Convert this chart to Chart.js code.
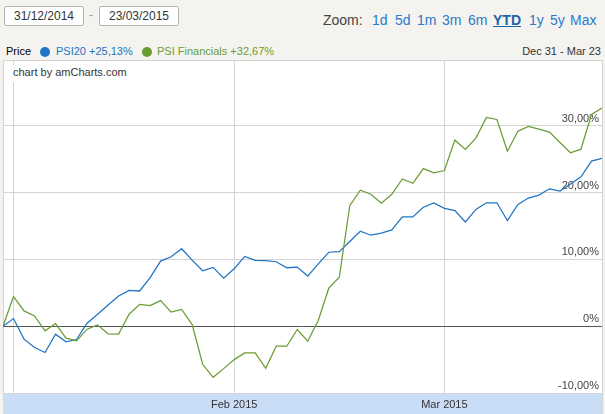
<!DOCTYPE html>
<html>
<head>
<meta charset="utf-8">
<script src="https://cdn.jsdelivr.net/npm/chart.js@4.4.1/dist/chart.umd.min.js"></script>
<style>
  body { margin: 0; width: 605px; height: 414px; background: #f4f3f0; font-family: "Liberation Sans", Arial, sans-serif; position: relative; overflow: hidden; }
  .date { position: absolute; top: 6px; width: 78px; height: 18px; background: #fff; border: 1px solid #b5b5b5; border-radius: 2px; font-size: 12px; color: #333; text-align: center; line-height: 18px; }
  .dash { position: absolute; left: 89px; top: 8px; font-size: 12px; color: #999; }
  .zoom { position: absolute; top: 12px; font-size: 14px; color: #444; }
  .zoom span { position: absolute; color: #2b7bcb; white-space: nowrap; }
  .legend { position: absolute; top: 45px; left: 0; width: 605px; font-size: 11px; white-space: nowrap; }
  .legend span { position: absolute; }
  .dot { width: 10px; height: 10px; border-radius: 50%; top: 2px; }
  #box { position: absolute; left: 3px; top: 60px; width: 598px; height: 360px; background: #fff; border: 1px solid #d2d2d2; }
  #wrap { position: absolute; left: 3px; top: 61px; width: 599px; height: 353px; }
  .credit { position: absolute; left: 11px; top: 65px; font-size: 11px; color: #333; background: #fff; padding: 1px 2px 4px 2px; }
</style>
</head>
<body>
<div class="date" style="left:4px">31/12/2014</div>
<div class="dash">-</div>
<div class="date" style="left:99px">23/03/2015</div>
<div class="zoom" style="left:323px">Zoom:</div>
<div class="zoom" style="left:0">
  <span style="left:372px">1d</span>
  <span style="left:395px">5d</span>
  <span style="left:417px">1m</span>
  <span style="left:442px">3m</span>
  <span style="left:468px">6m</span>
  <span style="left:493px; font-weight:bold; text-decoration:underline; color:#1f63a8">YTD</span>
  <span style="left:529px">1y</span>
  <span style="left:550px">5y</span>
  <span style="left:570px">Max</span>
</div>
<div class="legend">
  <span style="left:6px; color:#000">Price</span>
  <span class="dot" style="left:40px; background:#1f74c4"></span>
  <span style="left:56px; color:#1f74c4">PSI20 +25,13%</span>
  <span class="dot" style="left:142px; background:#6a9c34"></span>
  <span style="left:157px; color:#6a9c34">PSI Financials +32,67%</span>
  <span style="right:4px; color:#333">Dec 31 - Mar 23</span>
</div>
<div id="box"></div>
<div id="wrap"><canvas id="chart"></canvas></div>
<div class="credit">chart by amCharts.com</div>
<script>
const days = [
  '2014-12-31',
  '2015-01-02', '2015-01-05', '2015-01-06', '2015-01-07', '2015-01-08', '2015-01-09',
  '2015-01-12', '2015-01-13', '2015-01-14', '2015-01-15', '2015-01-16',
  '2015-01-19', '2015-01-20', '2015-01-21', '2015-01-22', '2015-01-23',
  '2015-01-26', '2015-01-27', '2015-01-28', '2015-01-29', '2015-01-30',
  '2015-02-02', '2015-02-03', '2015-02-04', '2015-02-05', '2015-02-06',
  '2015-02-09', '2015-02-10', '2015-02-11', '2015-02-12', '2015-02-13',
  '2015-02-16', '2015-02-17', '2015-02-18', '2015-02-19', '2015-02-20',
  '2015-02-23', '2015-02-24', '2015-02-25', '2015-02-26', '2015-02-27',
  '2015-03-02', '2015-03-03', '2015-03-04', '2015-03-05', '2015-03-06',
  '2015-03-09', '2015-03-10', '2015-03-11', '2015-03-12', '2015-03-13',
  '2015-03-16', '2015-03-17', '2015-03-18', '2015-03-19', '2015-03-20',
  '2015-03-23'
];

// % change since Dec 31
const psi20 = [
  0, 1.14, -1.94, -3.18, -3.93, -1.19, -2.34, -1.99, 0.45, 1.79,
  3.18, 4.53, 5.37, 5.27, 7.26, 9.75, 10.4, 11.6, 9.9, 8.3,
  8.8, 7.2, 8.6, 10.45, 9.85, 9.8, 9.65, 8.75, 8.85, 7.5,
  9.33, 11.07, 11.17, 12.67, 14.21, 13.62, 13.92, 14.41, 16.36, 16.36,
  17.8, 18.45, 17.65, 17.3, 15.6, 17.48, 18.48, 18.48, 15.8, 18.23,
  19.18, 19.63, 20.57, 20.22, 21.3, 22.37, 24.71, 25.13
];
const psiFin = [
  0, 4.43, 2.29, 1.54, -0.7, 0.4, -1.79, -2.19, -0.45, 0.2,
  -1.14, -1.19, 1.79, 3.28, 3.08, 3.83, 2.1, 2.5, 0.25, -5.7,
  -7.65, -6.35, -5.0, -4.0, -4.0, -6.3, -3.0, -3.0, -0.5, -2.25,
  0.85, 5.69, 7.33, 18.05, 20.35, 19.75, 18.4, 19.75, 22.05, 21.4,
  23.6, 22.95, 23.3, 27.85, 26.46, 28.15, 31.25, 30.95, 26.2, 29.2,
  29.9, 29.5, 29.05, 27.5, 25.96, 26.5, 31.7, 32.67
];

const yTicks = [-10, 0, 10, 20, 30];
const monthLabels = { '2015-02-02': 'Feb 2015', '2015-03-02': 'Mar 2015' };
const gridDays = ['2015-01-02', '2015-02-02', '2015-03-02'];

const bandPlugin = {
  id: 'band',
  beforeDraw(chart) {
    const { ctx, chartArea, width, height } = chart;
    ctx.save();
    ctx.fillStyle = '#c9ddf7';
    ctx.fillRect(0, chartArea.bottom, width, height - chartArea.bottom);
    ctx.restore();
  }
};

new Chart(document.getElementById('chart'), {
  type: 'line',
  data: {
    labels: days,
    datasets: [
      { label: 'PSI Financials', data: psiFin, borderColor: '#6a9c34', borderWidth: 1.25, pointRadius: 0, tension: 0 },
      { label: 'PSI20', data: psi20, borderColor: '#1f74c4', borderWidth: 1.25, pointRadius: 0, tension: 0 }
    ]
  },
  options: {
    responsive: true,
    maintainAspectRatio: false,
    animation: false,
    layout: { padding: 0 },
    plugins: { legend: { display: false }, tooltip: { enabled: false } },
    scales: {
      x: {
        offset: false,
        border: { display: false },
        afterFit: s => { s.height = 21; s.paddingLeft = 0; s.paddingRight = 0; },
        grid: {
          drawTicks: false,
          color: c => (c.tick && gridDays.includes(days[c.tick.value]) ? '#d4d4d4' : 'transparent')
        },
        ticks: {
          autoSkip: false,
          maxRotation: 0,
          padding: 5,
          color: '#333',
          font: { family: 'Liberation Sans', size: 11 },
          callback: (v, i) => monthLabels[days[i]] || ''
        }
      },
      y: {
        position: 'right',
        min: -10,
        max: 39.7,
        afterBuildTicks: s => { s.ticks = yTicks.map(v => ({ value: v })); },
        afterFit: s => { s.width = 0; s.paddingTop = 0; s.paddingBottom = 0; },
        border: { display: false },
        grid: {
          drawTicks: false,
          color: c => (c.tick && c.tick.value === 0 ? '#555' : '#d4d4d4')
        },
        ticks: {
          mirror: true,
          padding: -3,
          labelOffset: -7,
          color: '#444',
          font: { family: 'Liberation Sans', size: 11 },
          callback: v => (v === 0 ? '0%' : v.toFixed(2).replace('.', ',') + '%')
        }
      }
    }
  },
  plugins: [bandPlugin]
});
</script>
</body>
</html>
